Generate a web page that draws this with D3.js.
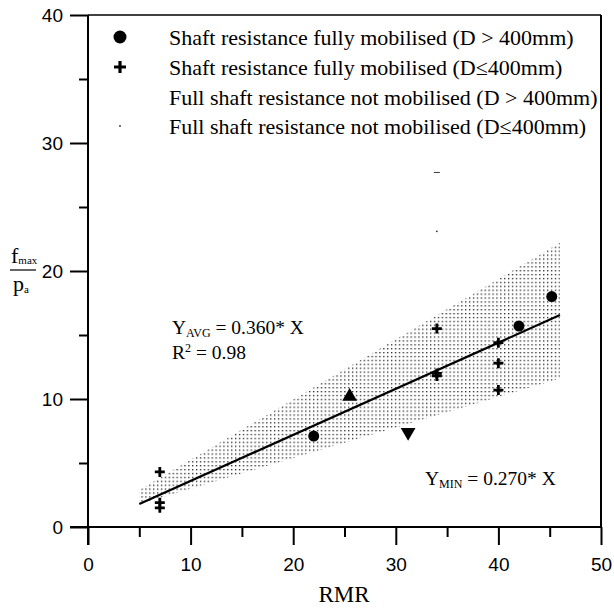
<!DOCTYPE html>
<html>
<head>
<meta charset="utf-8">
<script src="https://cdn.jsdelivr.net/npm/d3@7/dist/d3.min.js"></script>
<style>
  body { margin: 0; background: #fff; }
  text { fill: #000; }
</style>
</head>
<body>
<svg id="chart" width="614" height="614"></svg>
<script>
// Axis ticks
const xTicks = [0, 10, 20, 30, 40, 50];
const xMinorTicks = [5, 15, 25, 35, 45];
const yTicks = [0, 10, 20, 30, 40];
const yMinorTicks = [5, 15, 25, 35];

// Observations: [RMR, fmax/pa]
const fullyMobilisedLarge = [[22, 7.1], [42, 15.7], [45.2, 18.0]];
const fullyMobilisedSmall = [[7, 4.3], [7, 1.9], [7, 1.5], [34, 15.5], [34, 12.0], [34, 11.8], [40, 14.4], [40, 12.8], [40, 10.7]];
const notMobilisedLargeUp = [[25.5, 10.2]];
const notMobilisedLargeDown = [[31.2, 7.4]];
const notMobilisedSmall = [[34, 27.7], [34, 23.1]];

// Average fit line and scatter band
const avgSlope = 0.36;
const fitRange = [5, 46];
const bandX = [5, 46];
const bandUpper = [2.9, 22.2];
const bandLower = [1.8, 11.6];

const legendLabels = [
  "Shaft resistance fully mobilised (D > 400mm)",
  "Shaft resistance fully mobilised (D\u2264400mm)",
  "Full shaft resistance not mobilised (D > 400mm)",
  "Full shaft resistance not mobilised (D\u2264400mm)"
];

const svg = d3.select("#chart");
const plotLeft = 88, plotRight = 601, plotTop = 15, plotBottom = 527;

const x = d3.scaleLinear().domain([0, 50]).range([plotLeft, plotRight]);
const y = d3.scaleLinear().domain([0, 40]).range([plotBottom, plotTop]);

// dotted fill for the band
const defs = svg.append("defs");
const pat = defs.append("pattern")
  .attr("id", "dots").attr("patternUnits", "userSpaceOnUse")
  .attr("width", 3.9).attr("height", 3.9);
pat.append("rect").attr("x", 1).attr("y", 1).attr("width", 1.3).attr("height", 1.3).attr("fill", "#1a1a1a");

const bandPts = [
  [bandX[0], bandLower[0]], [bandX[0], bandUpper[0]],
  [bandX[1], bandUpper[1]], [bandX[1], bandLower[1]]
];
svg.append("path")
  .attr("d", d3.line().x(d => x(d[0])).y(d => y(d[1]))(bandPts) + "Z")
  .attr("fill", "url(#dots)");

// frame (top and right)
svg.append("line").attr("x1", plotLeft).attr("x2", plotRight).attr("y1", plotTop).attr("y2", plotTop)
  .attr("stroke", "#000").attr("stroke-width", 1.5);
svg.append("line").attr("x1", plotRight).attr("x2", plotRight).attr("y1", plotTop).attr("y2", plotBottom)
  .attr("stroke", "#000").attr("stroke-width", 2);

// axes
const fontSans = "'Liberation Sans', Arial, sans-serif";
const fontSerif = "'Liberation Serif', 'Times New Roman', serif";

function styleAxis(g) {
  g.selectAll("path.domain").attr("stroke-width", 2);
  g.selectAll(".tick line").attr("stroke-width", 2);
  g.selectAll("text").attr("font-family", fontSans).attr("font-size", 19).attr("fill", "#000");
}

const gx = svg.append("g").attr("transform", `translate(0,${plotBottom})`)
  .call(d3.axisBottom(x).tickValues(xTicks).tickSize(18).tickSizeOuter(0).tickPadding(13).tickFormat(d3.format("d")));
styleAxis(gx);
gx.select("path.domain").attr("d", `M${70},0H${plotRight}`);
const gxm = svg.append("g").attr("transform", `translate(0,${plotBottom})`)
  .call(d3.axisBottom(x).tickValues(xMinorTicks).tickSize(10).tickSizeOuter(0).tickFormat(""));
gxm.select("path.domain").remove();
gxm.selectAll(".tick line").attr("stroke-width", 2);

const gy = svg.append("g").attr("transform", `translate(${plotLeft},0)`)
  .call(d3.axisLeft(y).tickValues(yTicks).tickSize(18).tickSizeOuter(0).tickPadding(7).tickFormat(d3.format("d")));
styleAxis(gy);
gy.select("path.domain").attr("d", `M0,${plotTop}V${plotBottom + 18}`);
const gym = svg.append("g").attr("transform", `translate(${plotLeft},0)`)
  .call(d3.axisLeft(y).tickValues(yMinorTicks).tickSize(9).tickSizeOuter(0).tickFormat(""));
gym.select("path.domain").remove();
gym.selectAll(".tick line").attr("stroke-width", 2);

// average fit line
svg.append("line")
  .attr("x1", x(fitRange[0])).attr("y1", y(avgSlope * fitRange[0]))
  .attr("x2", x(fitRange[1])).attr("y2", y(avgSlope * fitRange[1]))
  .attr("stroke", "#000").attr("stroke-width", 2.2);

// markers
const circle = (g, cx, cy, r) => g.append("circle").attr("cx", cx).attr("cy", cy).attr("r", r).attr("fill", "#000");
const plus = (g, cx, cy, s, w) => g.append("path")
  .attr("d", `M${cx - s},${cy}H${cx + s}M${cx},${cy - s}V${cy + s}`)
  .attr("stroke", "#000").attr("stroke-width", w).attr("fill", "none");

const marks = svg.append("g");
fullyMobilisedLarge.forEach(d => circle(marks, x(d[0]), y(d[1]), 5.5));
fullyMobilisedSmall.forEach(d => plus(marks, x(d[0]), y(d[1]), 5, 2.8));
const tri = d3.symbol().type(d3.symbolTriangle).size(95);
notMobilisedLargeUp.forEach(d => marks.append("path").attr("d", tri())
  .attr("transform", `translate(${x(d[0])},${y(d[1])})`).attr("fill", "#000"));
notMobilisedLargeDown.forEach(d => marks.append("path").attr("d", tri())
  .attr("transform", `translate(${x(d[0])},${y(d[1])}) rotate(180)`).attr("fill", "#000"));
notMobilisedSmall.forEach((d, i) => {
  if (i === 0) marks.append("line").attr("x1", x(d[0]) - 3).attr("x2", x(d[0]) + 3)
    .attr("y1", y(d[1])).attr("y2", y(d[1])).attr("stroke", "#333").attr("stroke-width", 1);
  else marks.append("circle").attr("cx", x(d[0])).attr("cy", y(d[1])).attr("r", 0.9).attr("fill", "#333");
});

// legend
const legend = svg.append("g");
const rowY = [37, 67, 97, 126];
legendLabels.forEach((t, i) => {
  legend.append("text").attr("x", 169).attr("y", rowY[i]).attr("dy", "0.35em")
    .attr("font-family", fontSerif).attr("font-size", 22).text(t);
});
circle(legend, 120, rowY[0], 6.5);
plus(legend, 120, rowY[1], 6, 3.2);
legend.append("circle").attr("cx", 120).attr("cy", rowY[3]).attr("r", 0.9).attr("fill", "#333");

// fit annotations
function subText(xp, yp, main, sub, rest) {
  const t = svg.append("text").attr("x", xp).attr("y", yp)
    .attr("font-family", fontSerif).attr("font-size", 19.5);
  t.append("tspan").text(main);
  t.append("tspan").attr("font-size", 12).attr("dy", 3).text(sub);
  t.append("tspan").attr("dy", -3).text(rest);
}
subText(172, 334, "Y", "AVG", " = 0.360* X");
const r2 = svg.append("text").attr("x", 172).attr("y", 359)
  .attr("font-family", fontSerif).attr("font-size", 19.5);
r2.append("tspan").text("R");
r2.append("tspan").attr("font-size", 12).attr("dy", -7).text("2");
r2.append("tspan").attr("dy", 7).text(" = 0.98");
subText(425, 485, "Y", "MIN", " = 0.270* X");

// axis titles
svg.append("text").attr("x", 344).attr("y", 602).attr("text-anchor", "middle")
  .attr("font-family", fontSerif).attr("font-size", 23).text("RMR");

const yl = svg.append("g");
const f = yl.append("text").attr("x", 11).attr("y", 263).attr("font-family", fontSerif).attr("font-size", 22);
f.append("tspan").text("f");
f.append("tspan").attr("font-size", 11).attr("dy", 1).text("max");
yl.append("line").attr("x1", 10).attr("x2", 36).attr("y1", 270).attr("y2", 270)
  .attr("stroke", "#000").attr("stroke-width", 1.2);
const p = yl.append("text").attr("x", 13).attr("y", 291).attr("font-family", fontSerif).attr("font-size", 22);
p.append("tspan").text("p");
p.append("tspan").attr("font-size", 11).attr("dy", 2).text("a");
</script>
</body>
</html>
